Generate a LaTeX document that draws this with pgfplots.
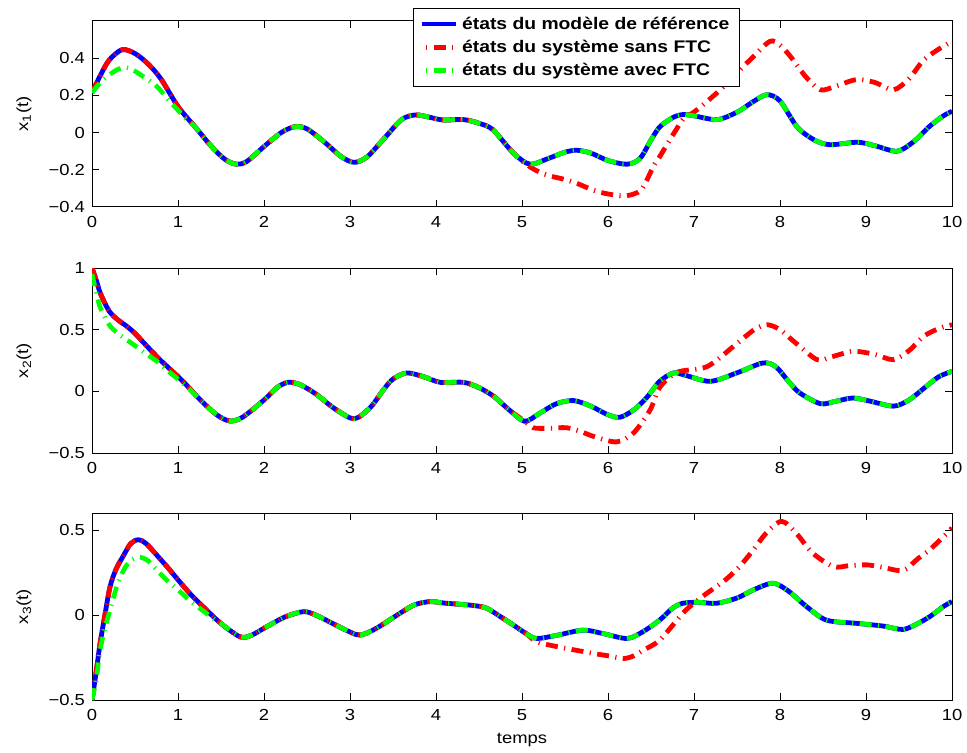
\documentclass[border=0pt]{standalone}
\usepackage{fontspec}
\setmainfont{Liberation Sans}[FakeStretch=1.15]
\usepackage{pgfplots}
\pgfplotsset{compat=1.18}
\usepackage{pgfplotstable}

\definecolor{mblue}{rgb}{0,0,1}
\definecolor{mred}{rgb}{1,0,0}
\definecolor{mgreen}{rgb}{0,1,0}

% ---------- plot 1 ----------
\pgfplotstableread{
t v
0 0.215
0.1 0.31
0.2 0.39
0.35 0.446
0.5 0.425
0.65 0.37
0.8 0.29
1.0 0.14
1.2 0.03
1.4 -0.08
1.55 -0.145
1.68 -0.17
1.8 -0.155
2.0 -0.075
2.2 0.0
2.36 0.032
2.5 0.02
2.7 -0.05
2.9 -0.13
3.05 -0.16
3.2 -0.13
3.4 -0.03
3.6 0.07
3.76 0.095
3.9 0.085
4.08 0.068
4.32 0.07
4.5 0.05
4.66 0.016
4.9 -0.11
5.09 -0.17
5.3 -0.14
5.5 -0.105
5.64 -0.095
5.8 -0.11
6.0 -0.15
6.22 -0.17
6.37 -0.14
6.5 -0.04
6.6 0.03
6.75 0.08
6.87 0.097
7.0 0.09
7.27 0.07
7.5 0.11
7.7 0.17
7.85 0.204
8.0 0.17
8.2 0.03
8.4 -0.04
8.58 -0.065
8.9 -0.052
9.1 -0.07
9.36 -0.1
9.55 -0.05
9.74 0.034
9.9 0.09
10 0.115
}\refA
\pgfplotstableread{
t v
0 0.215
0.1 0.31
0.2 0.39
0.35 0.446
0.5 0.425
0.65 0.37
0.8 0.29
1.0 0.14
1.2 0.03
1.4 -0.08
1.55 -0.145
1.68 -0.17
1.8 -0.155
2.0 -0.075
2.2 0.0
2.36 0.032
2.5 0.02
2.7 -0.05
2.9 -0.13
3.05 -0.16
3.2 -0.13
3.4 -0.03
3.6 0.07
3.76 0.095
3.9 0.085
4.08 0.068
4.32 0.07
4.5 0.05
4.66 0.016
4.9 -0.11
5.05 -0.17
5.15 -0.2
5.3 -0.23
5.48 -0.25
5.65 -0.275
5.83 -0.31
6.0 -0.33
6.18 -0.34
6.3 -0.33
6.4 -0.3
6.53 -0.18
6.6 -0.13
6.87 0.07
7.0 0.11
7.27 0.215
7.45 0.3
7.65 0.39
7.88 0.49
8.0 0.47
8.12 0.41
8.3 0.3
8.47 0.23
8.65 0.25
8.89 0.285
9.1 0.27
9.32 0.23
9.5 0.29
9.67 0.39
9.85 0.45
10 0.49
}\sansA
\pgfplotstableread{
t v
0 0.215
0.1 0.27
0.2 0.31
0.3 0.34
0.4 0.35
0.5 0.33
0.6 0.30
0.75 0.25
0.9 0.17
1.0 0.12
1.1 0.07
1.2 0.03
1.4 -0.08
1.55 -0.145
1.68 -0.17
1.8 -0.155
2.0 -0.075
2.2 0.0
2.36 0.032
2.5 0.02
2.7 -0.05
2.9 -0.13
3.05 -0.16
3.2 -0.13
3.4 -0.03
3.6 0.07
3.76 0.095
3.9 0.085
4.08 0.068
4.32 0.07
4.5 0.05
4.66 0.016
4.9 -0.11
5.09 -0.17
5.3 -0.14
5.5 -0.105
5.64 -0.095
5.8 -0.11
6.0 -0.15
6.22 -0.17
6.37 -0.14
6.5 -0.04
6.6 0.03
6.75 0.08
6.87 0.097
7.0 0.09
7.27 0.07
7.5 0.11
7.7 0.17
7.85 0.204
8.0 0.17
8.2 0.03
8.4 -0.04
8.58 -0.065
8.9 -0.052
9.1 -0.07
9.36 -0.1
9.55 -0.05
9.74 0.034
9.9 0.09
10 0.115
}\avecA

% ---------- plot 2 ----------
\pgfplotstableread{
t v
0 1.0
0.05 0.9
0.1 0.79
0.2 0.65
0.3 0.58
0.4 0.53
0.5 0.47
0.64 0.365
0.8 0.25
1.0 0.12
1.1 0.05
1.26 -0.07
1.45 -0.19
1.6 -0.24
1.75 -0.21
2.0 -0.07
2.15 0.03
2.28 0.073
2.42 0.054
2.6 -0.02
2.8 -0.13
3.0 -0.215
3.1 -0.21
3.25 -0.12
3.39 0.014
3.5 0.1
3.66 0.149
3.85 0.12
4.05 0.073
4.32 0.073
4.5 0.03
4.67 -0.04
4.85 -0.15
5.03 -0.243
5.2 -0.18
5.4 -0.1
5.6 -0.075
5.8 -0.12
6.0 -0.19
6.14 -0.21
6.3 -0.15
6.45 -0.05
6.6 0.08
6.76 0.149
6.9 0.13
7.19 0.081
7.5 0.15
7.8 0.23
7.95 0.2
8.1 0.08
8.23 -0.013
8.47 -0.1
8.65 -0.08
8.85 -0.054
9.05 -0.08
9.32 -0.12
9.5 -0.07
9.7 0.04
9.85 0.12
10 0.162
}\refB
\pgfplotstableread{
t v
0 1.0
0.05 0.9
0.1 0.79
0.2 0.65
0.3 0.58
0.4 0.53
0.5 0.47
0.64 0.365
0.8 0.25
1.0 0.12
1.1 0.05
1.26 -0.07
1.45 -0.19
1.6 -0.24
1.75 -0.21
2.0 -0.07
2.15 0.03
2.28 0.073
2.42 0.054
2.6 -0.02
2.8 -0.13
3.0 -0.215
3.1 -0.21
3.25 -0.12
3.39 0.014
3.5 0.1
3.66 0.149
3.85 0.12
4.05 0.073
4.32 0.073
4.5 0.03
4.67 -0.04
4.85 -0.15
5.03 -0.243
5.13 -0.295
5.3 -0.3
5.52 -0.295
5.7 -0.33
5.83 -0.365
6.1 -0.41
6.3 -0.335
6.49 -0.15
6.6 0.03
6.8 0.154
7.15 0.2
7.46 0.365
7.7 0.5
7.85 0.54
8.0 0.5
8.16 0.405
8.43 0.257
8.6 0.28
8.85 0.324
9.1 0.3
9.32 0.257
9.5 0.33
9.67 0.446
9.85 0.51
10 0.54
}\sansB
\pgfplotstableread{
t v
0 0.95
0.05 0.8
0.09 0.69
0.15 0.6
0.21 0.53
0.3 0.47
0.40 0.42
0.52 0.36
0.64 0.30
0.78 0.23
0.91 0.15
1.0 0.1
1.1 0.04
1.26 -0.07
1.45 -0.19
1.6 -0.24
1.75 -0.21
2.0 -0.07
2.15 0.03
2.28 0.073
2.42 0.054
2.6 -0.02
2.8 -0.13
3.0 -0.215
3.1 -0.21
3.25 -0.12
3.39 0.014
3.5 0.1
3.66 0.149
3.85 0.12
4.05 0.073
4.32 0.073
4.5 0.03
4.67 -0.04
4.85 -0.15
5.03 -0.243
5.2 -0.18
5.4 -0.1
5.6 -0.075
5.8 -0.12
6.0 -0.19
6.14 -0.21
6.3 -0.15
6.45 -0.05
6.6 0.08
6.76 0.149
6.9 0.13
7.19 0.081
7.5 0.15
7.8 0.23
7.95 0.2
8.1 0.08
8.23 -0.013
8.47 -0.1
8.65 -0.08
8.85 -0.054
9.05 -0.08
9.32 -0.12
9.5 -0.07
9.7 0.04
9.85 0.12
10 0.162
}\avecB

% ---------- plot 3 ----------
\pgfplotstableread{
t v
0 -0.5
0.05 -0.33
0.093 -0.17
0.15 0.0
0.21 0.167
0.28 0.27
0.36 0.344
0.45 0.42
0.54 0.443
0.63 0.42
0.75 0.354
0.88 0.28
1.0 0.207
1.15 0.12
1.33 0.03
1.5 -0.05
1.72 -0.128
1.85 -0.12
2.03 -0.069
2.25 -0.01
2.46 0.02
2.6 0.0
2.8 -0.05
3.0 -0.1
3.12 -0.118
3.3 -0.08
3.58 0.01
3.75 0.06
3.93 0.079
4.1 0.07
4.28 0.063
4.45 0.055
4.59 0.04
4.75 -0.01
4.9 -0.059
5.05 -0.11
5.17 -0.138
5.4 -0.12
5.71 -0.089
5.95 -0.11
6.22 -0.138
6.4 -0.1
6.6 -0.03
6.75 0.04
6.87 0.069
7.05 0.075
7.26 0.069
7.5 0.1
7.7 0.15
7.92 0.187
8.1 0.14
8.31 0.049
8.54 -0.03
8.89 -0.049
9.2 -0.065
9.43 -0.085
9.6 -0.05
9.74 -0.01
9.9 0.05
10 0.079
}\refC
\pgfplotstableread{
t v
0 -0.5
0.05 -0.33
0.093 -0.17
0.15 0.0
0.21 0.167
0.28 0.27
0.36 0.344
0.45 0.42
0.54 0.443
0.63 0.42
0.75 0.354
0.88 0.28
1.0 0.207
1.15 0.12
1.33 0.03
1.5 -0.05
1.72 -0.128
1.85 -0.12
2.03 -0.069
2.25 -0.01
2.46 0.02
2.6 0.0
2.8 -0.05
3.0 -0.1
3.12 -0.118
3.3 -0.08
3.58 0.01
3.75 0.06
3.93 0.079
4.1 0.07
4.28 0.063
4.45 0.055
4.59 0.04
4.75 -0.01
4.9 -0.059
5.05 -0.11
5.17 -0.158
5.35 -0.18
5.52 -0.197
5.83 -0.226
6.0 -0.24
6.18 -0.256
6.3 -0.24
6.41 -0.207
6.6 -0.148
6.87 0.01
7.0 0.07
7.15 0.128
7.35 0.2
7.53 0.285
7.7 0.39
7.84 0.482
8.02 0.551
8.19 0.48
8.38 0.364
8.62 0.285
8.8 0.29
9.01 0.295
9.2 0.28
9.43 0.262
9.6 0.33
9.74 0.384
9.9 0.46
10 0.512
}\sansC
\pgfplotstableread{
t v
0 -0.5
0.05 -0.38
0.093 -0.21
0.15 -0.08
0.21 0.03
0.29 0.17
0.37 0.266
0.45 0.32
0.55 0.34
0.65 0.32
0.75 0.266
0.88 0.2
1.0 0.148
1.15 0.08
1.33 0.01
1.5 -0.05
1.72 -0.128
1.85 -0.12
2.03 -0.069
2.25 -0.01
2.46 0.02
2.6 0.0
2.8 -0.05
3.0 -0.1
3.12 -0.118
3.3 -0.08
3.58 0.01
3.75 0.06
3.93 0.079
4.1 0.07
4.28 0.063
4.45 0.055
4.59 0.04
4.75 -0.01
4.9 -0.059
5.05 -0.11
5.17 -0.138
5.4 -0.12
5.71 -0.089
5.95 -0.11
6.22 -0.138
6.4 -0.1
6.6 -0.03
6.75 0.04
6.87 0.069
7.05 0.075
7.26 0.069
7.5 0.1
7.7 0.15
7.92 0.187
8.1 0.14
8.31 0.049
8.54 -0.03
8.89 -0.049
9.2 -0.065
9.43 -0.085
9.6 -0.05
9.74 -0.01
9.9 0.05
10 0.079
}\avecC

\pgfplotsset{
  myax/.style={
    scale only axis, width=430pt, height=93pt,
    xmin=0, xmax=10, xtick={0,1,...,10},
    xticklabels={0,1,2,3,4,5,6,7,8,9,10},
    tick align=inside, major tick length=3.5pt,
    axis line style={line width=0.5pt},
    every tick/.style={black, line width=0.5pt},
    tick label style={font=\fontsize{8}{9}\selectfont},
    label style={font=\fontsize{8}{9}\selectfont},
    ylabel style={at={(axis description cs:-0.079,0.5)}, anchor=center},
    xticklabel style={yshift=-1pt},
  },
  refl/.style={color=mblue, line width=2.4pt, smooth, line join=round},
  sansl/.style={color=mred, line width=2.4pt, smooth, dash pattern=on 6pt off 3.2pt on 0.6pt off 3.2pt},
  avecl/.style={color=mgreen, line width=2.3pt, smooth, dash pattern=on 6pt off 3.2pt on 0.6pt off 3.2pt},
}

\begin{document}
\begin{tikzpicture}
\useasboundingbox (0,0) rectangle (483.5pt,-376.5pt);

\begin{axis}[myax, at={(46pt,-10.5pt)}, anchor=north west,
  ymin=-0.4, ymax=0.6, ytick={-0.4,-0.2,0,0.2,0.4},
  yticklabels={−0.4,−0.2,0,0.2,0.4},
  ylabel={x\textsubscript{1}(t)},
  legend style={at={(0.373,1.07)}, anchor=north west, draw=black, line width=0.5pt, fill=white,
    font=\fontsize{8.4}{9}\selectfont\bfseries, inner xsep=3pt, inner ysep=2pt,
    nodes={text height=6.5pt, text depth=1.5pt, inner ysep=1.8pt}, row sep=0pt},
  legend cell align=left,
  legend image code/.code={\draw[#1, dash phase=7pt] (0pt,0pt) -- (17pt,0pt);},
]
\addplot[refl] table[x=t,y=v]{\refA};
\addplot[sansl] table[x=t,y=v]{\sansA};
\addplot[avecl] table[x=t,y=v]{\avecA};
\legend{états du modèle de référence, états du système sans FTC, états du système avec FTC}
\end{axis}

\begin{axis}[myax, at={(46pt,-134pt)}, anchor=north west, height=92.5pt,
  ymin=-0.5, ymax=1, ytick={-0.5,0,0.5,1},
  yticklabels={−0.5,0,0.5,1},
  ylabel={x\textsubscript{2}(t)},
]
\addplot[refl] table[x=t,y=v]{\refB};
\addplot[sansl] table[x=t,y=v]{\sansB};
\addplot[avecl] table[x=t,y=v]{\avecB};
\end{axis}

\begin{axis}[myax, at={(46pt,-256.5pt)}, anchor=north west, height=93.5pt,
  ymin=-0.5, ymax=0.6, ytick={-0.5,0,0.5},
  yticklabels={−0.5,0,0.5},
  ylabel={x\textsubscript{3}(t)},
  xlabel={temps},
  xlabel style={at={(axis description cs:0.5,0)}, anchor=center, yshift=-20pt},
]
\addplot[refl] table[x=t,y=v]{\refC};
\addplot[sansl] table[x=t,y=v]{\sansC};
\addplot[avecl] table[x=t,y=v]{\avecC};
\end{axis}
\end{tikzpicture}
\end{document}
